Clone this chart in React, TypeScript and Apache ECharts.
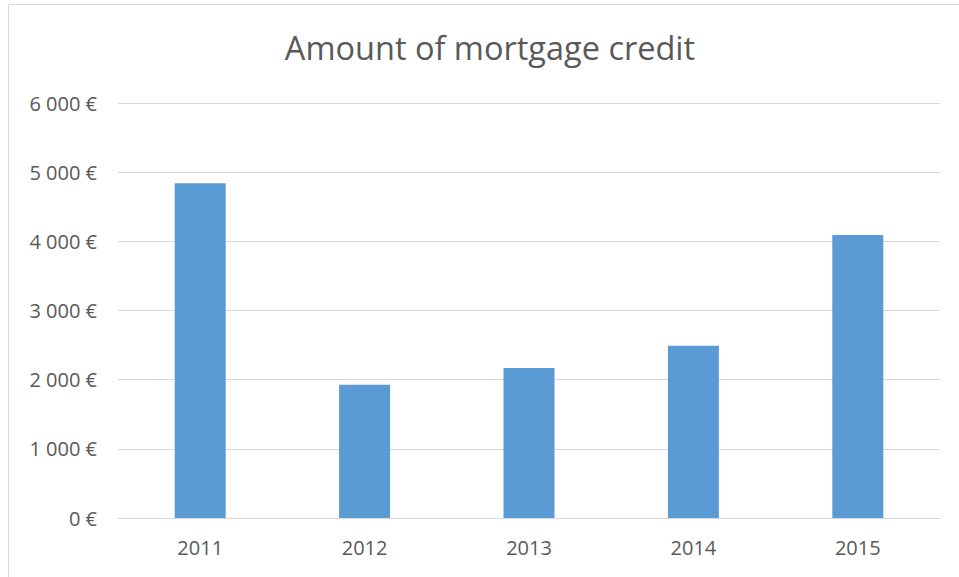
import React, { useEffect, useRef } from "react";
import * as echarts from "echarts";

const categories = ["2011", "2012", "2013", "2014", "2015"];
const values = [4840, 1925, 2170, 2490, 4090];
const yTicks = [0, 1000, 2000, 3000, 4000, 5000, 6000];

function fmt(v: number): string {
  const s = String(v);
  const withSpace = s.replace(/\B(?=(\d{3})+(?!\d))/g, " ");
  return withSpace + " €";
}

export default function App() {
  const ref = useRef<HTMLDivElement>(null);
  useEffect(() => {
    if (!ref.current) return;
    const chart = echarts.init(ref.current, null, { renderer: "svg" });
    chart.setOption({
      animation: false,
      backgroundColor: "#ffffff",
      textStyle: { fontFamily: "Open Sans" },
      title: {
        text: "Amount of mortgage credit",
        left: 485,
        top: 26,
        textAlign: "center",
        textStyle: { fontFamily: "Open Sans", fontSize: 32.5, fontWeight: "normal", color: "#595959" },
      },
      graphic: [
        {
          type: "rect",
          shape: { x: 8.5, y: 4.5, width: 1000, height: 700 },
          style: { fill: "none", stroke: "#d9d9d9", lineWidth: 1 },
          silent: true,
        },
      ],
      grid: { left: 118, right: 19, top: 103, bottom: 59 },
      xAxis: {
        type: "category",
        data: categories,
        axisLine: { show: true, lineStyle: { color: "#d9d9d9", width: 1 } },
        axisTick: { show: false },
        axisLabel: { color: "#595959", fontSize: 20, margin: 19, fontFamily: "Open Sans" },
      },
      yAxis: {
        type: "value",
        min: yTicks[0],
        max: yTicks[yTicks.length - 1],
        interval: 1000,
        axisLine: { show: false },
        axisTick: { show: false },
        splitLine: { lineStyle: { color: "#d9d9d9", width: 1 } },
        axisLabel: { color: "#595959", fontSize: 20, margin: 21, formatter: (v: number) => fmt(v), fontFamily: "Open Sans" },
      },
      series: [
        {
          type: "bar",
          data: values,
          barWidth: 51,
          itemStyle: { color: "#5b9bd5" },
        },
      ],
    });
    return () => chart.dispose();
  }, []);
  return (
    <div
      ref={ref}
      style={{ position: "fixed", left: 0, top: 0, width: 959, height: 577 }}
    />
  );
}
